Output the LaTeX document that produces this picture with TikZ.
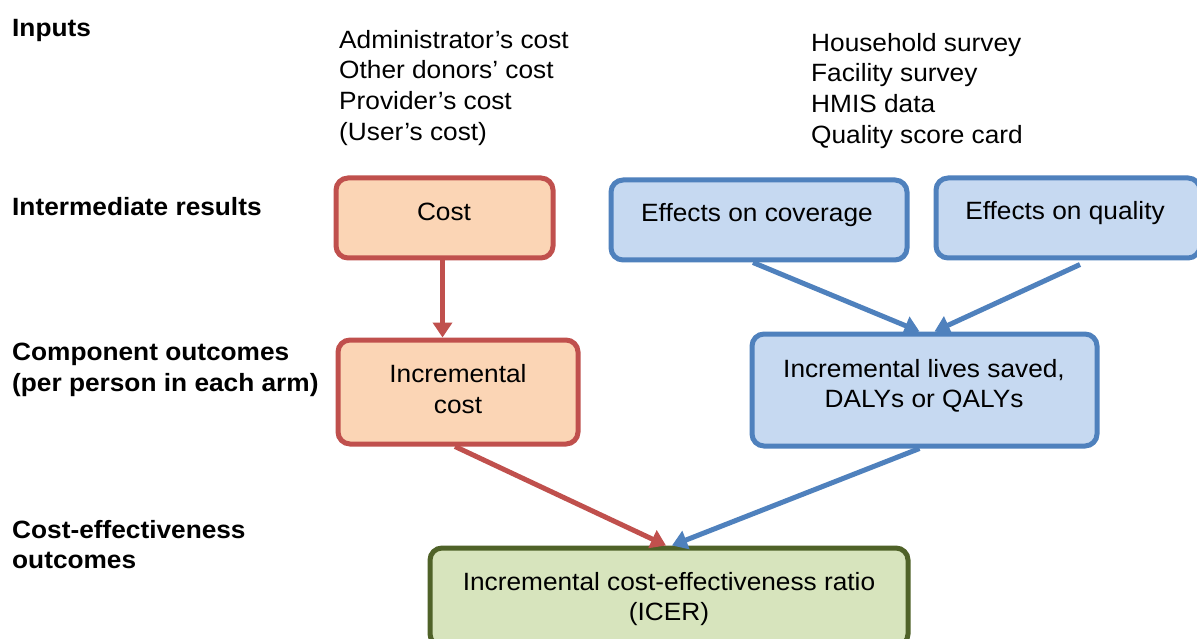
\documentclass[tikz,border=0pt]{standalone}
\usepackage{fontspec}
\setmainfont{Liberation Sans}[FakeStretch=1.05]
\usetikzlibrary{arrows.meta,positioning,calc}
\definecolor{redb}{HTML}{C0504D}
\definecolor{redf}{HTML}{FBD5B5}
\definecolor{blueb}{HTML}{4F81BD}
\definecolor{bluef}{HTML}{C6D9F1}
\definecolor{greenb}{HTML}{4F6228}
\definecolor{greenf}{HTML}{D7E4BD}
\newcommand{\fsz}{\fontsize{25}{30.6}\selectfont}
\tikzset{
  box/.style={rectangle, rounded corners=12pt, line width=5pt, inner sep=0pt},
  redbox/.style={box, draw=redb, fill=redf},
  bluebox/.style={box, draw=blueb, fill=bluef},
  greenbox/.style={box, draw=greenb, fill=greenf},
  txt/.style={font=\fsz, align=center, inner sep=0pt},
  lbl/.style={font=\fsz\bfseries, align=left, inner sep=0pt, anchor=north west},
  lst/.style={font=\fsz, align=left, inner sep=0pt, anchor=north west},
  redarrow/.style={draw=redb, line width=5pt, -{Triangle[width=19pt,length=15pt]}},
  bluearrow/.style={draw=blueb, line width=5pt, -{Triangle[width=19pt,length=15pt]}},
}
\begin{document}
\begin{tikzpicture}[x=1pt,y=-1pt]
\clip (0,0) rectangle (1197,639);
\fill[white] (0,0) rectangle (1197,639);

% left labels
\node[lbl] (linputs) at (12,19) {Inputs};
\node[lbl] (linter) at (12,197) {Intermediate results};
\node[lbl] (lcomp) at (12,343) {Component outcomes\\(per person in each arm)};
\node[lbl] (lce) at (12,520) {Cost-effectiveness\\outcomes};

% input lists
\node[lst] (costs) at (339,30) {Administrator’s cost\\Other donors’ cost\\Provider’s cost\\(User’s cost)};
\node[lst] (data) at (811,33) {Household survey\\Facility survey\\HMIS data\\Quality score card};

% boxes
\node[redbox, minimum width=217pt, minimum height=80pt] (cost) at (444.5,218) {};
\node[txt] (costt) at (444,212) {Cost};
\node[redbox, minimum width=240pt, minimum height=104pt] (inccost) at (458,392) {};
\node[txt] (inccostt) at (458,389) {Incremental\\cost};
\node[bluebox, minimum width=296pt, minimum height=80pt] (cov) at (759,220) {};
\node[txt] (covt) at (757,215) {Effects on coverage};
\node[bluebox, minimum width=264pt, minimum height=80pt] (qual) at (1068,218) {};
\node[txt] (qualt) at (1065,213) {Effects on quality};
\node[bluebox, minimum width=345pt, minimum height=112pt] (lives) at (924.5,390) {};
\node[txt] (livest) at (924,386) {Incremental lives saved,\\DALYs or QALYs};
\node[greenbox, minimum width=478pt, minimum height=98pt] (icer) at (669,597) {};
\node[txt] (icert) at (669,599) {Incremental cost-effectiveness ratio\\(ICER)};

% connectors
\draw[redarrow] ([xshift=-2pt]cost.south) -- ([xshift=-2pt]cost.south |- inccost.north);
\draw[bluearrow] ([xshift=-6pt]cov.south) -- ([xshift=-5pt]lives.north);
\draw[bluearrow] ([xshift=12pt,yshift=-4pt]qual.south) -- ([xshift=10pt]lives.north);
\draw[redarrow] ([xshift=-3pt]inccost.south) -- ([xshift=-3pt]icer.north);
\draw[bluearrow] ([xshift=-5pt]lives.south) -- ([xshift=3pt]icer.north);
\end{tikzpicture}
\end{document}
